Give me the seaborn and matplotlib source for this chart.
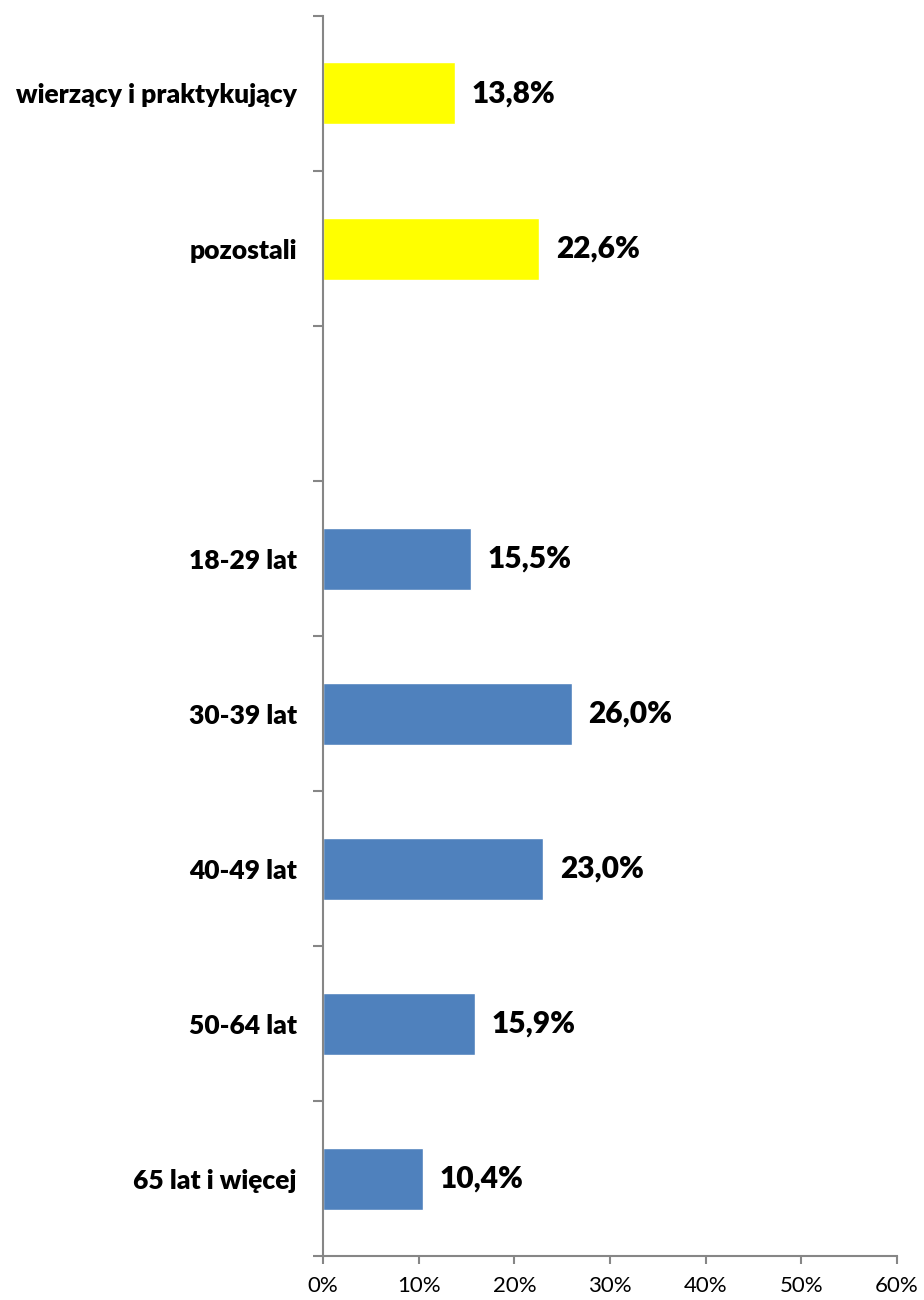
import matplotlib
matplotlib.use("Agg")
import matplotlib.pyplot as plt
import seaborn as sns
import pandas as pd
import numpy as np
from matplotlib.ticker import FixedLocator, PercentFormatter

categories = ["wierzący i praktykujący", "pozostali", "",
              "18-29 lat", "30-39 lat", "40-49 lat", "50-64 lat", "65 lat i więcej"]
values = [13.8, 22.6, np.nan, 15.5, 26.0, 23.0, 15.9, 10.4]
groups = ["religia", "religia", "religia", "wiek", "wiek", "wiek", "wiek", "wiek"]
palette = {"religia": "#FFFF00", "wiek": "#4F81BD"}
x_ticks = [0, 10, 20, 30, 40, 50, 60]

sns.set_theme(style="white")
plt.rcParams["font.family"] = ["Lato", "DejaVu Sans"]

df = pd.DataFrame({"kategoria": categories, "odsetek": values, "grupa": groups})

fig = plt.figure(figsize=(9.24, 13.0), dpi=100)
ax = fig.add_axes([0.3496, 0.0338, 0.6212, 0.9539])

sns.barplot(data=df, y="kategoria", x="odsetek", hue="grupa", palette=palette,
            order=categories, orient="h", width=0.4, dodge=False,
            legend=False, ax=ax, saturation=1)

axis_grey = "#868686"
ax.set_xlim(0, 60)
ax.set_ylim(len(categories) - 0.5, -0.5)
ax.set_xlabel("")
ax.set_ylabel("")
for side in ("top", "right"):
    ax.spines[side].set_visible(False)
for side in ("left", "bottom"):
    ax.spines[side].set_color(axis_grey)
    ax.spines[side].set_linewidth(1.5)

ax.xaxis.set_major_locator(FixedLocator(x_ticks))
ax.xaxis.set_major_formatter(PercentFormatter(decimals=0))
ax.tick_params(axis="x", which="major", direction="out", length=6, width=1.5,
               color=axis_grey, labelsize=16, labelcolor="#000000", pad=8,
               bottom=True)

# category labels on the centres, tick marks between categories
ax.set_yticks(range(len(categories)))
ax.set_yticklabels(categories, fontweight="heavy")
ax.tick_params(axis="y", which="major", length=0, labelsize=19, pad=19,
               labelcolor="#000000")
ax.yaxis.set_minor_locator(FixedLocator(np.arange(-0.5, len(categories), 1.0)))
ax.tick_params(axis="y", which="minor", direction="out", length=7, width=1.5,
               color=axis_grey, left=True)

for i, v in enumerate(values):
    if np.isnan(v):
        continue
    ax.annotate(f"{v:.1f}%".replace(".", ","), xy=(v, i), xytext=(12, 0),
                textcoords="offset points", ha="left", va="center",
                fontsize=21.5, fontweight="heavy", color="#000000")

fig.savefig("out.png", dpi=100, facecolor="white")
